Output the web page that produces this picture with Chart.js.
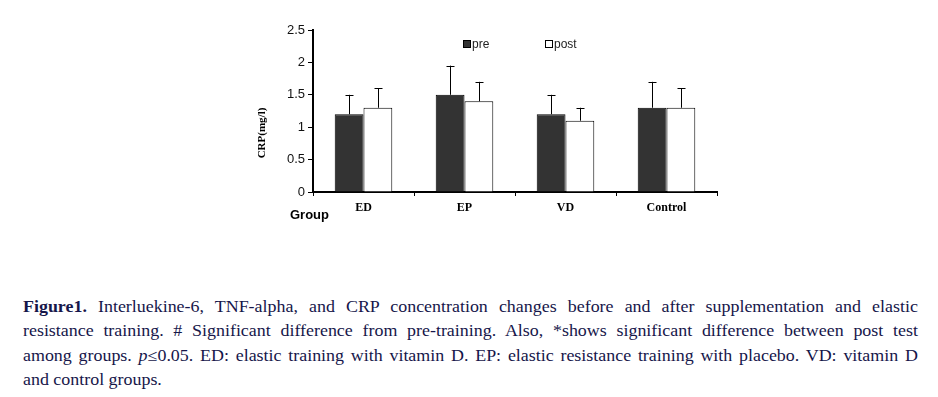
<!DOCTYPE html>
<html>
<head>
<meta charset="utf-8">
<script src="https://cdn.jsdelivr.net/npm/chart.js@4"></script>
<style>
    html, body { margin: 0; padding: 0; background: #fff; }
    body { width: 938px; height: 397px; position: relative; overflow: hidden; }
    #wrap { position: absolute; left: 0; top: 0; width: 938px; height: 240px; }
    #caption {
        position: absolute; left: 23px; top: 295px; width: 799px;
        transform: scaleX(1.12); transform-origin: 0 0;
        font-family: "Liberation Serif", "Times New Roman", serif;
        font-size: 16px; line-height: 24.3px; color: #16164a;
    }
    #caption .ln { text-align: justify; text-align-last: justify; white-space: nowrap; }
    #caption .ln.last { text-align-last: left; }
</style>
</head>
<body>
<div id="wrap"><canvas id="crpChart"></canvas></div>
<div id="caption">
    <div class="ln"><b>Figure1.</b> Interluekine-6, TNF-alpha, and CRP concentration changes before and after supplementation and elastic</div>
    <div class="ln">resistance training. # Significant difference from pre-training. Also, *shows significant difference between post test</div>
    <div class="ln">among groups. <i>p</i>≤0.05. ED: elastic training with vitamin D. EP: elastic resistance training with placebo. VD: vitamin D</div>
    <div class="ln last">and control groups.</div>
</div>
<script>
// data
const groups = ['ED', 'EP', 'VD', 'Control'];
const preValues = [1.2, 1.5, 1.2, 1.3];
const postValues = [1.3, 1.4, 1.1, 1.3];
const preErrors = [0.3, 0.45, 0.3, 0.4];
const postErrors = [0.3, 0.3, 0.2, 0.3];
const yTicks = [0, 0.5, 1, 1.5, 2, 2.5];

const sansFont = '"Liberation Sans", Arial, sans-serif';
const serifFont = '"Liberation Serif", "Times New Roman", serif';

// upper error bars
const errorBars = {
    id: 'errorBars',
    afterDatasetsDraw(chart) {
        const ctx = chart.ctx;
        const y = chart.scales.y;
        ctx.save();
        ctx.strokeStyle = '#000';
        ctx.lineWidth = 1;
        chart.data.datasets.forEach(function(ds, i) {
            const meta = chart.getDatasetMeta(i);
            meta.data.forEach(function(bar, j) {
                const top = y.getPixelForValue(ds.data[j] + ds.errors[j]);
                const x = Math.round(bar.x) + 0.5;
                ctx.beginPath();
                ctx.moveTo(x, bar.y);
                ctx.lineTo(x, top);
                ctx.moveTo(x - 4, Math.round(top) + 0.5);
                ctx.lineTo(x + 4, Math.round(top) + 0.5);
                ctx.stroke();
            });
        });
        ctx.restore();
    }
};

// legend inside the plot, axis title and "Group" label
const extras = {
    id: 'extras',
    afterDraw(chart) {
        const ctx = chart.ctx;
        const area = chart.chartArea;
        ctx.save();
        const legendX = [area.left + 150, area.left + 232];
        chart.data.datasets.forEach(function(ds, i) {
            const lx = legendX[i];
            ctx.fillStyle = ds.backgroundColor;
            ctx.strokeStyle = '#000';
            ctx.lineWidth = 1;
            ctx.fillRect(lx + 0.5, 40.5, 7, 7);
            ctx.strokeRect(lx + 0.5, 40.5, 7, 7);
            ctx.fillStyle = '#222';
            ctx.font = '12px ' + sansFont;
            ctx.textAlign = 'left';
            ctx.textBaseline = 'middle';
            ctx.fillText(ds.label, lx + 9, 44.5);
        });

        ctx.font = 'bold 13px ' + sansFont;
        ctx.fillStyle = '#000';
        ctx.textAlign = 'left';
        ctx.textBaseline = 'middle';
        ctx.fillText('Group', 290, 215);

        ctx.translate(262, 133);
        ctx.rotate(-Math.PI / 2);
        ctx.font = 'bold 11px ' + serifFont;
        ctx.textAlign = 'center';
        ctx.fillText('CRP(mg/l)', 0, 0);
        ctx.restore();
    }
};

const ctx = document.getElementById('crpChart').getContext('2d');
const crpChart = new Chart(ctx, {
    type: 'bar',
    data: {
        labels: groups,
        datasets: [{
            label: 'pre',
            data: preValues,
            errors: preErrors,
            backgroundColor: '#333333',
            borderColor: '#000',
            borderWidth: 1
        }, {
            label: 'post',
            data: postValues,
            errors: postErrors,
            backgroundColor: '#ffffff',
            borderColor: '#000',
            borderWidth: 1
        }]
    },
    options: {
        responsive: true,
        maintainAspectRatio: false,
        animation: false,
        events: [],
        layout: {
            padding: { left: 273, top: 30, right: 221, bottom: 0 }
        },
        datasets: {
            bar: { categoryPercentage: 0.57, barPercentage: 1 }
        },
        plugins: {
            legend: { display: false },
            tooltip: { enabled: false }
        },
        scales: {
            x: {
                afterFit: function(scale) { scale.height = 48; },
                grid: { drawOnChartArea: false, tickLength: 4, color: '#000', offset: true },
                border: { color: '#000', width: 2 },
                ticks: {
                    padding: 5,
                    color: '#000',
                    font: { family: serifFont, size: 12, weight: 'bold' }
                }
            },
            y: {
                min: 0,
                max: 2.5,
                afterFit: function(scale) { scale.width = 40; },
                afterBuildTicks: function(scale) {
                    scale.ticks = yTicks.map(function(v) { return { value: v }; });
                },
                grid: { drawOnChartArea: false, tickLength: 5, color: '#000' },
                border: { color: '#000', width: 2 },
                ticks: {
                    padding: 3,
                    color: '#111',
                    font: { family: sansFont, size: 13 },
                    callback: function(v) { return String(v); }
                }
            }
        }
    },
    plugins: [errorBars, extras]
});
</script>
</body>
</html>
